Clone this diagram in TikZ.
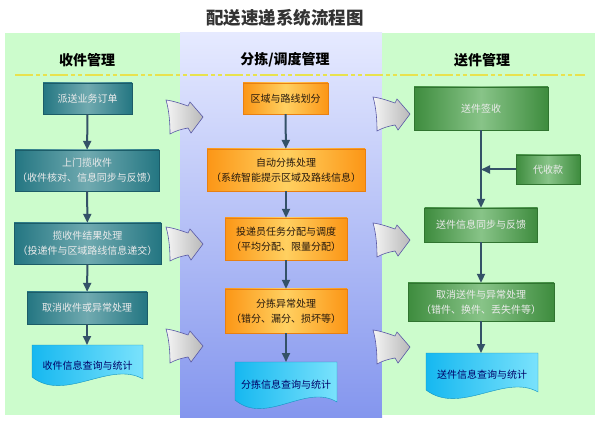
\documentclass[tikz,border=0pt]{standalone}
\usepackage{fontspec}
\setmainfont{Noto Sans CJK SC}
\usetikzlibrary{positioning,calc,arrows.meta}
\tikzset{>=Triangle}

\definecolor{panelgreen}{RGB}{204,252,204}
\definecolor{paneltop}{RGB}{230,234,255}
\definecolor{panelbot}{RGB}{132,150,238}
\definecolor{tealdark}{RGB}{36,118,130}
\definecolor{teallight}{RGB}{112,170,176}
\definecolor{tealedge}{RGB}{28,92,104}
\definecolor{orgdark}{RGB}{252,150,22}
\definecolor{orglight}{RGB}{255,208,96}
\definecolor{orgedge}{RGB}{232,128,18}
\definecolor{grndark}{RGB}{62,140,62}
\definecolor{grnlight}{RGB}{136,196,136}
\definecolor{grnedge}{RGB}{48,116,48}
\definecolor{cyandark}{RGB}{22,184,240}
\definecolor{cyanlight}{RGB}{122,226,252}
\definecolor{flowc}{RGB}{52,82,104}
\definecolor{dashy}{RGB}{232,226,78}

\begin{document}
\begin{tikzpicture}[x=1pt,y=-1pt,
  boxtext/.style={align=center,font=\fontsize{10}{15}\selectfont,inner sep=2pt},
  recvbox/.style={boxtext,draw=tealedge,left color=tealdark,right color=tealdark,middle color=teallight,text=white!92!black},
  sortbox/.style={boxtext,draw=orgedge,left color=orgdark,right color=orgdark,middle color=orglight,text=black!80!brown},
  sendbox/.style={boxtext,draw=grnedge,left color=grndark,right color=grndark,middle color=grnlight,text=white!92!black},
  docnode/.style={boxtext,text=blue!40!black},
  docfill/.style={left color=cyandark,right color=cyanlight,draw=cyandark!80!black,line width=0.4pt},
  flow/.style={-{Triangle[length=9pt,width=8pt]},line width=2pt,draw=flowc},
  bigarrow/.style={left color=white!92!gray,right color=gray!55!white,draw=gray!70!blue,line width=0.6pt},
  header/.style={font=\bfseries\fontsize{14}{16}\selectfont}]
\useasboundingbox (0,0) rectangle (600,422);

% panels
\fill[panelgreen] (5,33) rectangle (180,415);
\shade[top color=paneltop,bottom color=panelbot] (180,33) rectangle (382,417);
\fill[panelgreen] (382,33) rectangle (595,415);
\draw[dashy,line width=2pt,dash pattern=on 18pt off 3pt on 4pt off 3pt on 4pt off 3pt] (15,75) -- (585,75);

% titles
\node[font=\bfseries\fontsize{17.5}{20}\selectfont,text=black!80] (title) at (285,18) {配送速递系统流程图};
\node[header] (hrecv) at (87,60) {收件管理};
\node[header] (hsort) at (285,60) {分拣/调度管理};
\node[header] (hsend) at (482,60) {送件管理};

% left column
\node[recvbox,minimum width=89pt,minimum height=31pt] (r1) at (87.5,98.5) {派送业务订单};
\node[recvbox,minimum width=144pt,minimum height=41pt] (r2) at (87,170.5) {上门揽收件\\（收件核对、信息同步与反馈）};
\node[recvbox,minimum width=147pt,minimum height=41pt] (r3) at (87.5,243.5) {揽收件结果处理\\（投递件与区域路线信息递交）};
\node[recvbox,minimum width=120pt,minimum height=32pt] (r4) at (87,308) {取消收件或异常处理};
\path[docfill] (32,345) -- (143,345) -- (143,379) .. controls (110,360) and (65,403) .. (32,377) -- cycle;
\node[docnode] (r5) at (87.5,366) {收件信息查询与统计};

% middle column
\node[sortbox,minimum width=85pt,minimum height=31pt] (m1) at (285.5,98.5) {区域与路线划分};
\node[sortbox,minimum width=158pt,minimum height=42pt] (m2) at (286,170) {自动分拣处理\\（系统智能提示区域及路线信息）};
\node[sortbox,minimum width=122pt,minimum height=42pt] (m3) at (286,239) {投递员任务分配与调度\\（平均分配、限量分配）};
\node[sortbox,minimum width=122pt,minimum height=44pt] (m4) at (286,311) {分拣异常处理\\（错分、漏分、损坏等）};
\path[docfill] (235,362) -- (337,362) -- (337,402) .. controls (306,383) and (266,426) .. (235,400) -- cycle;
\node[docnode] (m5) at (286,385) {分拣信息查询与统计};

% right column
\node[sendbox,minimum width=134pt,minimum height=43pt] (s1) at (481,108.5) {送件签收};
\node[sendbox,minimum width=64pt,minimum height=29pt] (s2) at (548,169.5) {代收款};
\node[sendbox,minimum width=113pt,minimum height=34pt] (s3) at (481,225) {送件信息同步与反馈};
\node[sendbox,minimum width=146pt,minimum height=38pt] (s4) at (481,302) {取消送件与异常处理\\（错件、换件、丢失件等）};
\path[docfill] (426,353) -- (538,353) -- (538,392) .. controls (505,373) and (460,416) .. (426,390) -- cycle;
\node[docnode] (s5) at (482,375) {送件信息查询与统计};

% connectors
\draw[flow] (r1) -- (r2);
\draw[flow] (r2) -- (r3);
\draw[flow] (r3) -- (r4);
\draw[flow] (r4.south) -- (87,345);
\draw[flow] (m1) -- (m2);
\draw[flow] (m2) -- (m3);
\draw[flow] (m3) -- (m4);
\draw[flow] (m4.south) -- (286,362);
\draw[flow] (s1) -- (s3);
\coordinate (join) at (s1.south |- s2.west);
\draw[flow] (s2.west) -- (join);
\draw[flow] (s3) -- (s4);
\draw[flow] (s4.south) -- (481,353);

% block arrows between the lanes
\foreach \bx/\by in {166/100, 166/227, 166/329, 373/97, 373/223, 373/330}
  \path[bigarrow,shift={(\bx,\by)}] (0,0) .. controls (8,1) and (16,4) .. (22,6) -- (24,2)
    -- (37,17) -- (25,33) -- (22,28) .. controls (16,29) and (9,31) .. (4,34)
    .. controls (4,22) and (3,10) .. (0,0) -- cycle;
\end{tikzpicture}
\end{document}
